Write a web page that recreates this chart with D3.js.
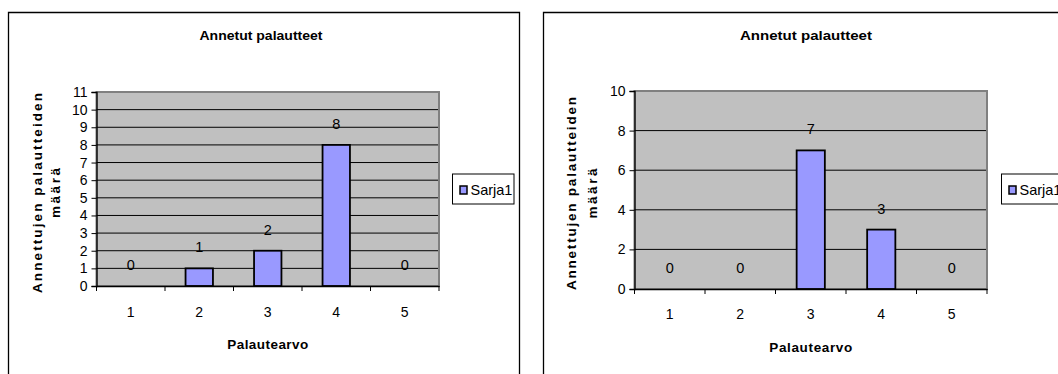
<!DOCTYPE html>
<html><head><meta charset="utf-8">
<script src="https://cdn.jsdelivr.net/npm/d3@7"></script>
<style>body{margin:0;background:#fff}svg{display:block}text{font-family:"Liberation Sans",Arial,sans-serif}</style>
</head><body>
<svg id="c" width="1058" height="374"></svg>
<script>
const categories = ["1","2","3","4","5"];
const seriesName = "Sarja1";
const chartTitle = "Annetut palautteet";
const yTitleLines = ["Annettujen palautteiden","määrä"];
const xTitle = "Palautearvo";
const valuesLeft = [0,1,2,8,0];
const valuesRight = [0,0,7,3,0];
const yTicksLeft = [0,1,2,3,4,5,6,7,8,9,10,11];
const yTicksRight = [0,2,4,6,8,10];

const svg = d3.select("#c");

function drawChart(cfg, values, yTicks){
  const g = svg.append("g");
  g.append("path").attr("d", cfg.framePath).attr("fill","none").attr("stroke","#000").attr("stroke-width",1.3);
  const x = d3.scaleBand().domain(categories).range([cfg.L, cfg.R]);
  const y = d3.scaleLinear().domain([0, d3.max(yTicks)]).range([cfg.B, cfg.T]);
  g.append("rect").attr("x",cfg.L).attr("y",cfg.T).attr("width",cfg.R-cfg.L).attr("height",cfg.B-cfg.T)
    .attr("fill","#c0c0c0").attr("stroke","#808080").attr("stroke-width",2);
  g.selectAll(".grid").data(yTicks.filter(v=>v>0 && v<d3.max(yTicks))).join("line")
    .attr("x1",cfg.L).attr("x2",cfg.R-1).attr("y1",d=>y(d)).attr("y2",d=>y(d))
    .attr("stroke","#000").attr("stroke-width",1);
  const data = values.map((v,i)=>({c:categories[i],v}));
  const bw = x.bandwidth()*0.4;
  g.selectAll(".bar").data(data.filter(d=>d.v>0)).join("rect")
    .attr("x",d=>x(d.c)+x.bandwidth()/2-bw/2).attr("width",bw)
    .attr("y",d=>y(d.v)).attr("height",d=>y(0)-y(d.v))
    .attr("fill","#9999ff").attr("stroke","#000").attr("stroke-width",1.8);
  g.selectAll(".dl").data(data).join("text")
    .attr("x",d=>x(d.c)+x.bandwidth()/2).attr("y",d=>y(d.v)-16)
    .attr("text-anchor","middle").attr("font-size",14.5).text(d=>d.v);
  const ya = g.append("g").attr("transform",`translate(${cfg.L},0)`)
    .call(d3.axisLeft(y).tickValues(yTicks).tickSize(5).tickPadding(4).tickFormat(d3.format("d")));
  ya.select(".domain").attr("stroke","#000").attr("stroke-width",1.3);
  ya.selectAll(".tick line").attr("stroke","#000");
  ya.selectAll("text").attr("font-size",14).attr("fill","#000").attr("font-family","Liberation Sans, Arial");
  const xa = g.append("g").attr("transform",`translate(0,${cfg.B})`)
    .call(d3.axisBottom(x).tickSize(0).tickPadding(cfg.xLabPad));
  xa.select(".domain").attr("stroke","#000").attr("stroke-width",1.3);
  xa.selectAll("text").attr("font-size",14).attr("fill","#000").attr("font-family","Liberation Sans, Arial");
  const bounds = categories.map(c=>x(c)).concat([cfg.R]);
  g.selectAll(".xt").data(bounds).join("line")
    .attr("x1",d=>d).attr("x2",d=>d).attr("y1",cfg.B).attr("y2",cfg.B+5).attr("stroke","#000");
  g.append("text").attr("x",cfg.titleX).attr("y",40).attr("text-anchor","middle")
    .attr("font-weight","bold").attr("font-size",13.5)
    .attr("textLength",cfg.titleW).attr("lengthAdjust","spacingAndGlyphs").text(chartTitle);
  g.append("text").attr("x",(cfg.L+cfg.R)/2).attr("y",cfg.xTitleY).attr("text-anchor","middle")
    .attr("font-weight","bold").attr("font-size",13.5)
    .attr("textLength",cfg.xTitleW).attr("lengthAdjust","spacing").text(xTitle);
  yTitleLines.forEach((t,i)=>{
    g.append("text").attr("transform",`translate(${cfg.yTitleX[i]},${cfg.yTitleCY}) rotate(-90)`)
      .attr("text-anchor","middle").attr("font-weight","bold").attr("font-size",13.5)
      .attr("textLength",cfg.yTitleW[i]).attr("lengthAdjust","spacing").text(t);
  });
  const lg = g.append("g");
  lg.append("rect").attr("x",cfg.legX).attr("y",174).attr("width",cfg.legW).attr("height",30)
    .attr("fill","#fff").attr("stroke","#000").attr("stroke-width",1);
  lg.append("rect").attr("x",cfg.legX+7.5).attr("y",186).attr("width",7).attr("height",8)
    .attr("fill","#9999ff").attr("stroke","#000").attr("stroke-width",1.5);
  lg.append("text").attr("x",cfg.legX+18).attr("y",194.5).attr("font-size",14.5).text(seriesName);
}

drawChart({L:96.5,R:439,T:92,B:286,xLabPad:21,framePath:"M8.5,380V12.5H519.5V380",titleX:261,titleW:123,
  xTitleY:349,xTitleW:81,yTitleX:[41.5,60],yTitleCY:193,yTitleW:[200,50],legX:452.5,legW:61.5},
  valuesLeft, yTicksLeft);
drawChart({L:634.5,R:987,T:91,B:289,xLabPad:20,framePath:"M543.5,380V12.5H1070",titleX:806,titleW:132,
  xTitleY:352,xTitleW:83,yTitleX:[576,597],yTitleCY:193.5,yTitleW:[193,50],legX:1001.5,legW:70},
  valuesRight, yTicksRight);
</script>
</body></html>
